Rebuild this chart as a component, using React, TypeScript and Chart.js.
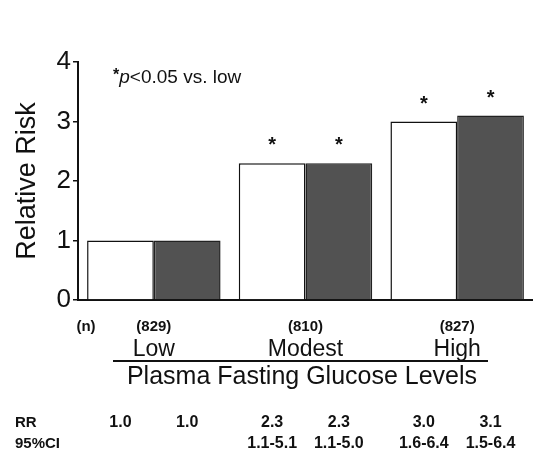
import React, { useEffect, useRef } from "react";
import { Chart, registerables } from "chart.js";

Chart.register(...registerables);

const categories = ["Low", "Modest", "High"];
const sampleSizes = ["(829)", "(810)", "(827)"];
const seriesOpen = [1.0, 2.3, 3.0];
const seriesFilled = [1.0, 2.3, 3.1];
const significant = [false, true, true];
const rrOpen = ["1.0", "2.3", "3.0"];
const rrFilled = ["1.0", "2.3", "3.1"];
const ciOpen = ["", "1.1-5.1", "1.6-6.4"];
const ciFilled = ["", "1.1-5.0", "1.5-6.4"];
const yMin = 0;
const yMax = 4;
const yStep = 1;

const FONT = "'Liberation Sans', Arial, Helvetica, sans-serif";

const textPlugin = {
  id: "textPlugin",
  afterDraw(chart: any) {
    const ctx = chart.ctx;
    const x = chart.scales.x;
    ctx.save();
    ctx.fillStyle = "#111";

    // significance stars above bars
    ctx.font = `bold 20px ${FONT}`;
    ctx.textAlign = "center";
    ctx.textBaseline = "alphabetic";
    [0, 1].forEach((di) => {
      const meta = chart.getDatasetMeta(di);
      meta.data.forEach((el: any, j: number) => {
        if (significant[j]) ctx.fillText("*", el.x, el.y - 12);
      });
    });

    // annotation
    ctx.textAlign = "left";
    let ax = 113;
    const ay = 83;
    ctx.font = `bold 16px ${FONT}`;
    ctx.fillText("*", ax, ay - 3);
    ax += ctx.measureText("*").width;
    ctx.font = `italic 19px ${FONT}`;
    ctx.fillText("p", ax, ay);
    ax += ctx.measureText("p").width;
    ctx.font = `19px ${FONT}`;
    ctx.fillText("<0.05 vs. low", ax, ay);

    // (n) row
    ctx.font = `bold 15px ${FONT}`;
    ctx.textAlign = "center";
    ctx.fillText("(n)", 86, 331);
    categories.forEach((c, i) => {
      const cx = x.getPixelForValue(i);
      ctx.font = `bold 15px ${FONT}`;
      ctx.fillText(sampleSizes[i], cx, 331);
      ctx.font = `23px ${FONT}`;
      ctx.fillText(c, cx, 356);
    });

    // divider line
    ctx.strokeStyle = "#111";
    ctx.lineWidth = 2;
    ctx.beginPath();
    ctx.moveTo(113, 361);
    ctx.lineTo(488, 361);
    ctx.stroke();

    // axis caption
    ctx.font = `25px ${FONT}`;
    ctx.textAlign = "center";
    ctx.fillText("Plasma Fasting Glucose Levels", 302, 384);

    // RR / CI rows
    ctx.font = `bold 15px ${FONT}`;
    ctx.textAlign = "left";
    ctx.fillText("RR", 15, 427);
    ctx.fillText("95%CI", 15, 448);
    ctx.textAlign = "center";
    ctx.font = `bold 16px ${FONT}`;
    const m0 = chart.getDatasetMeta(0).data;
    const m1 = chart.getDatasetMeta(1).data;
    categories.forEach((_, i) => {
      ctx.fillText(rrOpen[i], m0[i].x, 427);
      ctx.fillText(rrFilled[i], m1[i].x, 427);
      if (ciOpen[i]) ctx.fillText(ciOpen[i], m0[i].x, 448);
      if (ciFilled[i]) ctx.fillText(ciFilled[i], m1[i].x, 448);
    });
    ctx.restore();
  },
};

export default function App() {
  const ref = useRef<HTMLCanvasElement | null>(null);
  useEffect(() => {
    if (!ref.current) return;
    const chart = new Chart(ref.current, {
      type: "bar",
      data: {
        labels: categories,
        datasets: [
          {
            label: "open",
            data: seriesOpen,
            backgroundColor: "#ffffff",
            borderColor: "#111",
            borderWidth: 1.5,
            borderSkipped: "bottom",
          },
          {
            label: "filled",
            data: seriesFilled,
            backgroundColor: "#525252",
            borderColor: "#222",
            borderWidth: 1.5,
            borderSkipped: "bottom",
          },
        ],
      },
      options: {
        animation: false,
        responsive: false,
        maintainAspectRatio: false,
        layout: { padding: { top: 62, right: 0, bottom: 151, left: 0 } },
        plugins: {
          legend: { display: false },
          tooltip: { enabled: false },
        },
        datasets: {
          bar: { categoryPercentage: 0.88, barPercentage: 1.0 },
        },
        scales: {
          x: {
            grid: { display: false, drawTicks: false },
            ticks: { display: false },
            border: { display: true, color: "#111", width: 2 },
            afterFit: (s: any) => {
              s.height = 0;
            },
          },
          y: {
            min: yMin,
            max: yMax,
            ticks: {
              stepSize: yStep,
              color: "#111",
              padding: 2,
              font: { family: FONT, size: 26 },
            },
            grid: {
              drawOnChartArea: false,
              drawTicks: true,
              tickLength: 5,
              color: "#111",
              lineWidth: 1.5,
            },
            border: { display: true, color: "#111", width: 2 },
            title: {
              display: true,
              text: "Relative Risk",
              color: "#111",
              font: { family: FONT, size: 27 },
              padding: { top: 11, bottom: 0 },
            },
            afterFit: (s: any) => {
              s.width = 78;
            },
          },
        },
      },
      plugins: [textPlugin],
    });
    return () => chart.destroy();
  }, []);
  return (
    <div style={{ position: "absolute", left: 0, top: 0, width: 533, height: 451, background: "#fff" }}>
      <canvas ref={ref} width={533} height={451} style={{ width: 533, height: 451 }} />
    </div>
  );
}
